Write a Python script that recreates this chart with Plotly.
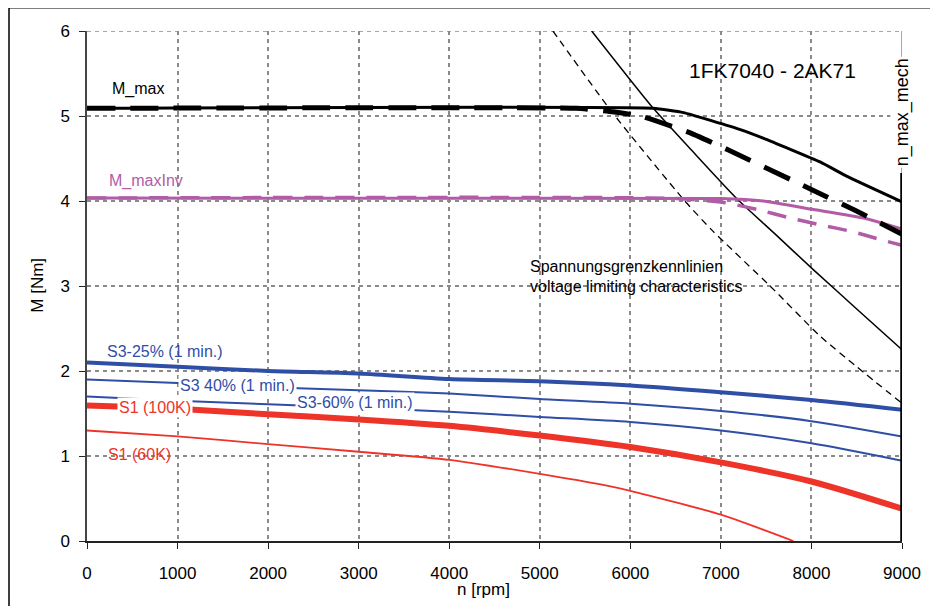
import plotly.graph_objects as go

# ---------------- data ----------------
RPM = [0, 1000, 2000, 3000, 4000, 5000, 6000, 7000, 8000, 9000]
S3_25 = [2.10, 2.05, 2.00, 1.97, 1.905, 1.88, 1.83, 1.75, 1.66, 1.545]
S3_40 = [1.90, 1.86, 1.81, 1.775, 1.735, 1.67, 1.615, 1.53, 1.41, 1.23]
S3_60 = [1.70, 1.65, 1.61, 1.565, 1.52, 1.46, 1.40, 1.30, 1.15, 0.945]
S1_100K = [1.595, 1.555, 1.49, 1.43, 1.355, 1.24, 1.105, 0.925, 0.70, 0.38]

S1_60K_RPM = [0, 1000, 2000, 3000, 4000, 5000, 5700, 6000, 7000, 7800]
S1_60K = [1.30, 1.23, 1.14, 1.05, 0.955, 0.79, 0.66, 0.59, 0.31, 0.0]

MMAX_RPM = [0, 6250, 6586, 7215, 7466, 8095, 8393, 9000]
MMAX = [5.09, 5.09, 5.04, 4.84, 4.74, 4.46, 4.29, 3.99]
MMAX_D_RPM = [0, 5400, 5812, 6144, 6641, 7083, 8011, 8481, 9000]
MMAX_D = [5.09, 5.09, 5.05, 4.99, 4.81, 4.60, 4.13, 3.89, 3.61]

MINV_RPM = [0, 7000, 7468, 8023, 8575, 9000]
MINV = [4.035, 4.03, 4.00, 3.90, 3.80, 3.67]
MINV_D_RPM = [0, 6500, 7046, 7402, 7726, 8096, 8452, 8783, 9000]
MINV_D = [4.035, 4.03, 3.98, 3.90, 3.81, 3.72, 3.64, 3.54, 3.48]

VLIM_RPM = [5573, 6254, 6700, 7174, 7600, 8023, 8500, 9000]
VLIM = [6.0, 5.09, 4.57, 4.03, 3.61, 3.19, 2.73, 2.25]
VLIM_D_RPM = [5145, 5795, 6586, 6898, 7543, 8096, 8500, 9000]
VLIM_D = [6.0, 5.05, 4.02, 3.66, 3.00, 2.41, 2.05, 1.62]

N_MAX_MECH = 9000
N_MAX_MECH_TOP = 4.33

X_TICKS = [0, 1000, 2000, 3000, 4000, 5000, 6000, 7000, 8000, 9000]
Y_TICKS = [0, 1, 2, 3, 4, 5, 6]

# ---------------- styling ----------------
FONT = "Liberation Sans, Arial, sans-serif"
BLACK = "#000000"
PURPLE = "#b25ca8"
BLUE = "#2f4ea6"
RED = "#ee3329"
GRID = "#8a8a8a"

fig = go.Figure()

def add(x, y, color, width, dash="solid", smooth=0.0):
    line = dict(color=color, width=width, dash=dash)
    if smooth > 0:
        line.update(shape="spline", smoothing=smooth)
    fig.add_trace(go.Scatter(x=x, y=y, mode="lines", line=line,
                             showlegend=False, hoverinfo="skip"))

# voltage limiting characteristics
add(VLIM_D_RPM, VLIM_D, BLACK, 1.3, "7px,5px", 0.6)
add(VLIM_RPM, VLIM, BLACK, 1.5, smooth=0.6)
# M_maxInv
add(MINV_D_RPM, MINV_D, PURPLE, 3.5, "19px,12px", 0.5)
add(MINV_RPM, MINV, PURPLE, 3, smooth=0.5)
# M_max
add(MMAX_RPM, MMAX, BLACK, 3, smooth=0.4)
add(MMAX_D_RPM, MMAX_D, BLACK, 5, "28px,15px", 0.4)
# S3 curves
add(RPM, S3_25, BLUE, 4, smooth=0.8)
add(RPM, S3_40, BLUE, 2, smooth=0.8)
add(RPM, S3_60, BLUE, 2, smooth=0.8)
# S1 curves
add(S1_60K_RPM, S1_60K, RED, 1.8, smooth=0.6)
add(RPM, S1_100K, RED, 6, smooth=0.8)
# n_max_mech line
add([N_MAX_MECH, N_MAX_MECH], [0, N_MAX_MECH_TOP], BLACK, 3.5)

def label(text, x, y, color, size=16, bg=None, **kw):
    fig.add_annotation(x=x, y=y, xref="x", yref="y", text=text, showarrow=False,
                       xanchor=kw.pop("xanchor", "left"), yanchor="middle",
                       font=dict(family=FONT, size=size, color=color),
                       bgcolor=bg if bg else "rgba(0,0,0,0)", borderpad=1, **kw)

label("M_max", 254, 5.32, BLACK)
label("M_maxInv", 221, 4.24, PURPLE)
label("S3-25% (1 min.)", 199, 2.23, BLUE)
label("S3 40% (1 min.)", 1000, 1.83, BLUE, bg="white")
label("S3-60% (1 min.)", 2300, 1.63, BLUE, bg="white")
label("S1 (100K)", 330, 1.565, RED, bg="white")
label("S1 (60K)", 210, 1.02, RED)
label("Spannungsgrenzkennlinien", 4866, 3.23, BLACK)
label("voltage limiting characteristics", 4866, 3.0, BLACK)
label("1FK7040 - 2AK71", 6629, 5.53, BLACK, size=21)
label("n_max_mech", N_MAX_MECH, 5.045, BLACK, size=18, bg="white",
      textangle=-90, xanchor="center")

# axis titles
fig.add_annotation(x=-0.0601, y=0.5006, xref="paper", yref="paper", text="M [Nm]",
                   showarrow=False, textangle=-90, xanchor="center", yanchor="middle",
                   font=dict(family=FONT, size=17, color=BLACK))
fig.add_annotation(x=0.486, y=-0.0955, xref="paper", yref="paper", text="n [rpm]",
                   showarrow=False, xanchor="center", yanchor="middle",
                   font=dict(family=FONT, size=17, color=BLACK))

# plot frame (top dashed gray, right gray) and outer picture frame
fig.add_shape(type="line", xref="x", yref="y", x0=0, x1=9000, y0=6, y1=6,
              line=dict(color=GRID, width=1.5, dash="4px,4px"), layer="below")
fig.add_shape(type="line", xref="x", yref="y", x0=9000, x1=9000, y0=N_MAX_MECH_TOP, y1=6,
              line=dict(color=GRID, width=1.5), layer="below")
fig.add_shape(type="rect", xref="paper", yref="paper",
              x0=-0.0957, x1=1.2, y0=-0.3, y1=1.0457,
              line=dict(color=BLACK, width=1.5), layer="above")

# the page places the figure 8px from the top-left corner of the window
fig.update_layout(
    width=930, height=598,
    margin=dict(l=79, r=36, t=23, b=65),
    paper_bgcolor="white", plot_bgcolor="white",
    font=dict(family=FONT, color=BLACK),
    showlegend=False,
)
fig.update_xaxes(range=[0, 9000], tickvals=X_TICKS, ticktext=[str(v) for v in X_TICKS],
                 showgrid=True, gridcolor=GRID, gridwidth=1.5, griddash="4px,4px",
                 zeroline=False, showline=True, linecolor="#222", linewidth=1.5,
                 ticks="outside", ticklen=6, tickcolor="#222", tickwidth=1.2,
                 ticklabelstandoff=10, tickfont=dict(family=FONT, size=17, color=BLACK))
fig.update_yaxes(range=[0, 6], tickvals=Y_TICKS, ticktext=[str(v) for v in Y_TICKS],
                 showgrid=True, gridcolor=GRID, gridwidth=1.5, griddash="4px,4px",
                 zeroline=False, showline=True, linecolor="#444", linewidth=1.5,
                 ticks="outside", ticklen=6, tickcolor="#222", tickwidth=1.2,
                 ticklabelstandoff=6, tickfont=dict(family=FONT, size=17, color=BLACK))

fig.write_html("out.html")
